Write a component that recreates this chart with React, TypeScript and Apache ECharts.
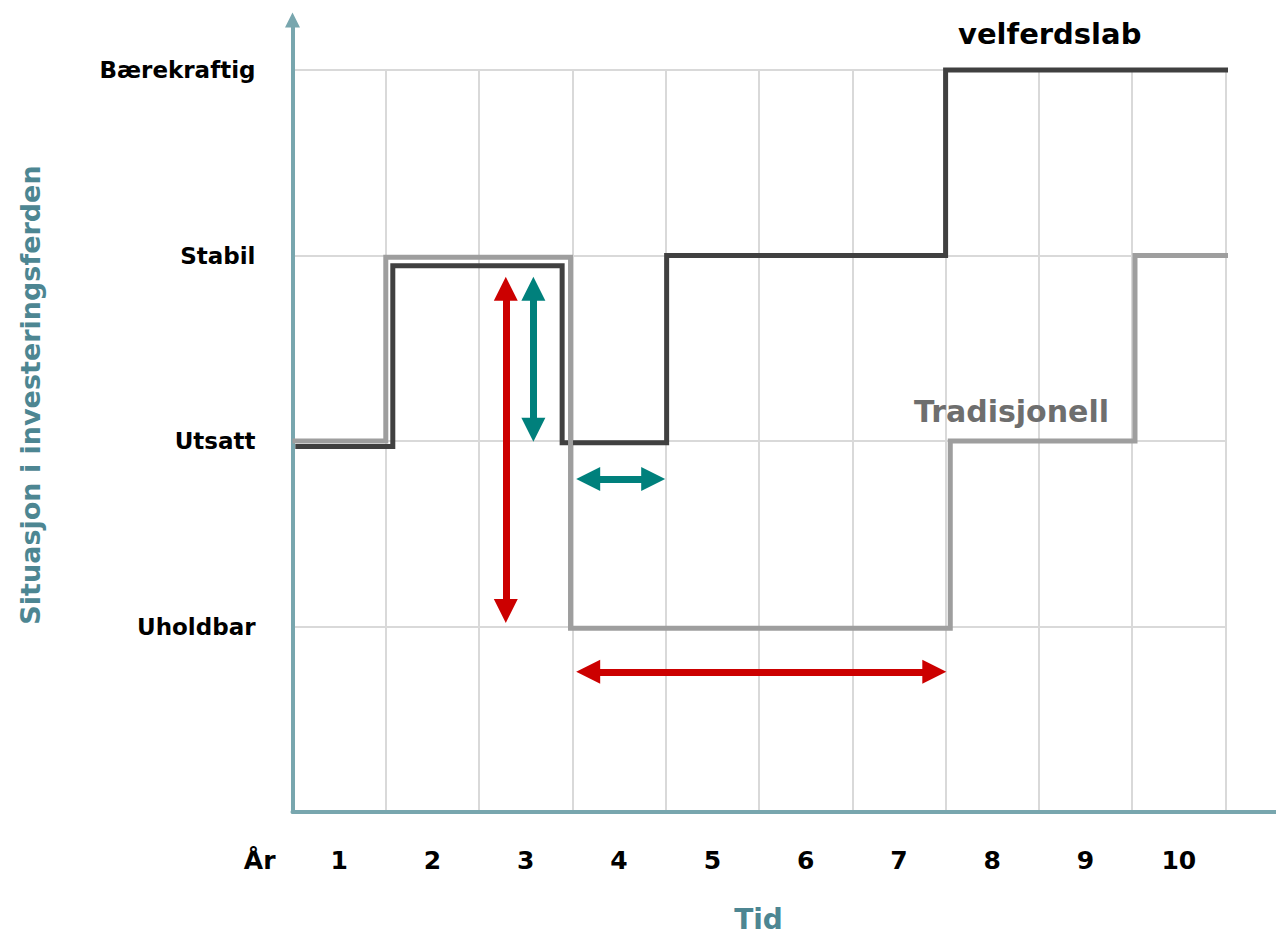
import React, { useEffect, useRef } from 'react';
import * as echarts from 'echarts';

const yearLabels = ['1', '2', '3', '4', '5', '6', '7', '8', '9', '10'];
const levelLabels = ['', 'Uholdbar', 'Utsatt', 'Stabil', 'Bærekraftig'];

// step lines as corner points [year, level]
const velferdslab: [number, number][] = [
  [0.03, 1.97], [1.075, 1.97], [1.075, 2.945], [2.89, 2.945], [2.89, 1.99],
  [4.01, 1.99], [4.01, 3.0], [7.0, 3.0], [7.0, 4.0], [10.05, 4.0],
];
const tradisjonell: [number, number][] = [
  [0, 2.0], [1.0, 2.0], [1.0, 2.99], [2.98, 2.99], [2.98, 0.99],
  [7.05, 0.99], [7.05, 2.0], [9.03, 2.0], [9.03, 3.0], [10.05, 3.0],
];

// double arrows: [start, end] (arrowhead centres)
const redVertical: [number, number][] = [[2.286, 2.821], [2.286, 1.084]];
const tealVertical: [number, number][] = [[2.582, 2.821], [2.582, 2.061]];
const tealHorizontal: [number, number][] = [[3.169, 1.795], [3.866, 1.795]];
const redHorizontal: [number, number][] = [[3.169, 0.756], [6.879, 0.756]];

const FONT = 'DejaVu Sans';
const AXIS = '#78a6ae';
const TITLE = '#4d8692';
const GRID = '#d9d9d9';
const RED = '#cc0000';
const TEAL = '#00807c';

function arrow(pts: [number, number][], color: string) {
  return [
    { coord: pts[0], lineStyle: { color }, itemStyle: { color } },
    { coord: pts[1] },
  ];
}

export default function App() {
  const ref = useRef<HTMLDivElement>(null);
  useEffect(() => {
    if (!ref.current) return;
    const chart = echarts.init(ref.current, undefined, { renderer: 'svg' });
    const option: any = {
      animation: false,
      backgroundColor: '#ffffff',
      grid: [
        { left: 292.5, right: 0, top: 20, bottom: 122 },
        { left: 292.5, right: 50.5, top: 70, bottom: 122 },
      ],
      xAxis: [
        {
          type: 'value', gridIndex: 0, min: 0, max: 1,
          axisLine: { show: true, lineStyle: { color: AXIS, width: 4 } },
          axisTick: { show: false }, axisLabel: { show: false }, splitLine: { show: false },
        },
        {
          type: 'value', gridIndex: 1, min: 0, max: 10, interval: 1,
          axisLine: { show: false }, axisTick: { show: false }, axisLabel: { show: false },
          splitLine: { show: true, showMinLine: false, showMaxLine: true, lineStyle: { color: GRID, width: 2 } },
        },
        {
          type: 'value', gridIndex: 1, min: 0, max: 10, interval: 0.5, position: 'bottom', offset: 48,
          axisLine: { show: false }, axisTick: { show: false }, splitLine: { show: false },
          name: 'År', nameLocation: 'start', nameGap: 17,
          nameTextStyle: { fontFamily: FONT, fontWeight: 'bold', fontSize: 25, color: '#000', verticalAlign: 'middle' },
          axisLabel: {
            show: true, margin: 0, verticalAlign: 'middle',
            fontFamily: FONT, fontWeight: 'bold', fontSize: 25, color: '#000',
            formatter: (v: number) => {
              const f = v - Math.floor(v);
              if (Math.abs(f - 0.5) < 1e-6) {
                const i = Math.floor(v);
                return yearLabels[i] ?? '';
              }
              return '';
            },
          },
        },
      ],
      yAxis: [
        {
          type: 'value', gridIndex: 0, min: 0, max: 4.27,
          axisLine: {
            show: true, symbol: ['none', 'triangle'], symbolSize: [15, 15],
            lineStyle: { color: AXIS, width: 4 },
          },
          axisTick: { show: false }, axisLabel: { show: false }, splitLine: { show: false },
        },
        {
          type: 'value', gridIndex: 1, min: 0, max: 4, interval: 1,
          axisLine: { show: false }, axisTick: { show: false },
          splitLine: { show: true, showMinLine: false, showMaxLine: true, lineStyle: { color: GRID, width: 2 } },
          axisLabel: {
            show: true, margin: 37, fontFamily: FONT, fontWeight: 'bold', fontSize: 23, color: '#000',
            formatter: (v: number) => levelLabels[Math.round(v)] ?? '',
          },
        },
      ],
      series: [
        {
          name: 'velferdslab', type: 'line', xAxisIndex: 1, yAxisIndex: 1,
          data: velferdslab, showSymbol: false, symbol: 'none', clip: false,
          lineStyle: { color: '#404040', width: 5, join: 'miter' },
          z: 3,
        },
        {
          name: 'Tradisjonell', type: 'line', xAxisIndex: 1, yAxisIndex: 1,
          data: tradisjonell, showSymbol: false, symbol: 'none', clip: false,
          lineStyle: { color: '#9e9e9e', width: 5, join: 'miter' },
          z: 4,
          markLine: {
            silent: true,
            symbol: ['triangle', 'triangle'],
            symbolSize: [24, 24],
            label: { show: false },
            lineStyle: { type: 'solid', width: 7 },
            emphasis: { disabled: true },
            data: [
              arrow(redVertical, RED),
              arrow(tealVertical, TEAL),
              arrow(tealHorizontal, TEAL),
              arrow(redHorizontal, RED),
            ],
          },
        },
      ],
      graphic: [
        {
          type: 'text', left: 958, top: 0, z: 10,
          style: { x: 0, y: 0, text: '' },
        },
        {
          type: 'text', x: 958, y: 34, z: 10,
          style: { text: 'velferdslab', fontFamily: FONT, fontWeight: 'bold', fontSize: 29, fill: '#000', align: 'left', verticalAlign: 'middle' },
        },
        {
          type: 'text', x: 914, y: 411, z: 10,
          style: { text: 'Tradisjonell', fontFamily: FONT, fontWeight: 'bold', fontSize: 30, fill: '#6e6e6e', align: 'left', verticalAlign: 'middle' },
        },
        {
          type: 'text', x: 758.5, y: 919, z: 10,
          style: { text: 'Tid', fontFamily: FONT, fontWeight: 'bold', fontSize: 28, fill: TITLE, align: 'center', verticalAlign: 'middle' },
        },
        {
          type: 'text', x: 30, y: 395, rotation: Math.PI / 2, z: 10,
          style: { text: 'Situasjon i investeringsferden', fontFamily: FONT, fontWeight: 'bold', fontSize: 27, fill: TITLE, align: 'center', verticalAlign: 'middle' },
        },
      ],
    };
    chart.setOption(option);
    return () => chart.dispose();
  }, []);
  return <div ref={ref} style={{ position: 'fixed', left: 0, top: 0, width: 1276, height: 934 }} />;
}
